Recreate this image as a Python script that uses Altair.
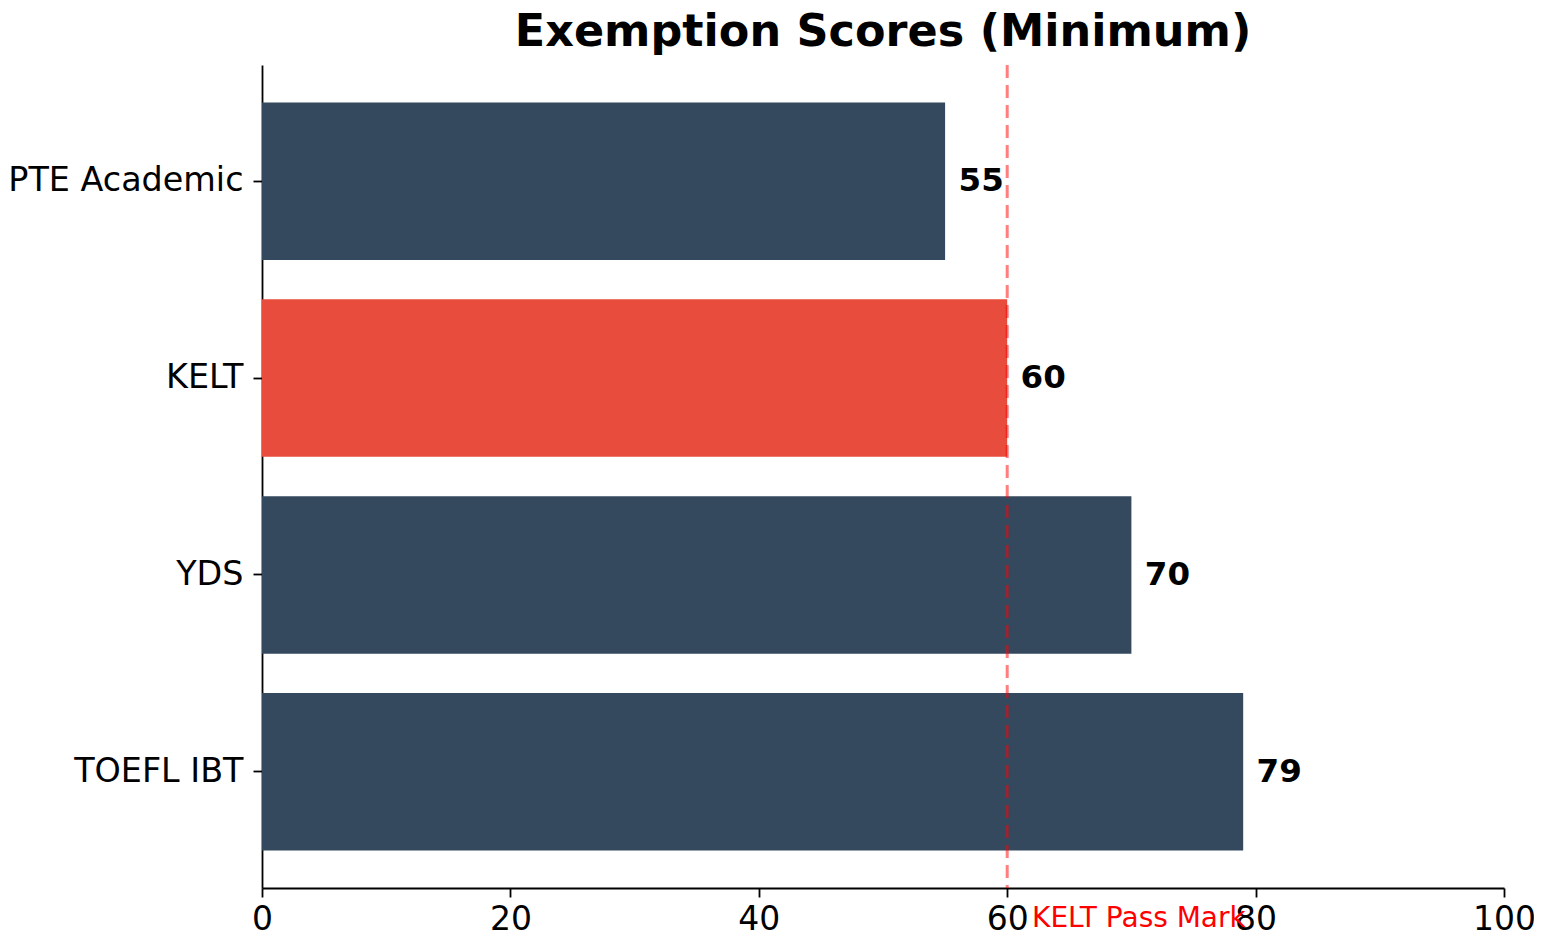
import altair as alt
import pandas as pd

tests = ["PTE Academic", "KELT", "YDS", "TOEFL IBT"]
scores = [55, 60, 70, 79]
colors = ["#34495e", "#e74c3c", "#34495e", "#34495e"]
pass_mark = 60
pass_label = "KELT Pass Mark"
x_ticks = [0, 20, 40, 60, 80, 100]

df = pd.DataFrame({"test": tests, "score": scores, "color": colors})
df["label_x"] = df["score"] + 1

W, H = 1242, 823
FONT = "DejaVu Sans"

y_enc = alt.Y(
    "test:N",
    sort=tests,
    scale=alt.Scale(paddingInner=0.2, paddingOuter=0.19),
    axis=alt.Axis(title=None, labelFontSize=33.4, labelColor="black", labelFont=FONT,
                  tickColor="black", tickSize=9, tickWidth=1.8, domainColor="black",
                  domainWidth=1.8, labelPadding=10, grid=False, labelLimit=500),
)
x_scale = alt.Scale(domain=[0, 100], nice=False)
x_axis = alt.Axis(title=None, values=x_ticks, labelFontSize=33, labelColor="black", labelFont=FONT,
                  tickColor="black", tickSize=9, tickWidth=1.8, domainColor="black",
                  domainWidth=1.8, labelPadding=6, grid=False, labelFlush=False)

bars = alt.Chart(df).mark_bar().encode(
    x=alt.X("score:Q", scale=x_scale, axis=x_axis),
    y=y_enc,
    color=alt.Color("color:N", scale=None, legend=None),
)

rule = alt.Chart(pd.DataFrame({"x": [pass_mark]})).mark_rule(
    color="#ff0000", opacity=0.5, strokeWidth=3, strokeDash=[13, 7]
).encode(x=alt.X("x:Q", scale=x_scale))

labels = alt.Chart(df).mark_text(
    align="left", baseline="middle", fontSize=32.5, fontWeight="bold", font=FONT, color="black", dx=1
).encode(
    x=alt.X("label_x:Q", scale=x_scale),
    y=alt.Y("test:N", sort=tests),
    text=alt.Text("score:Q"),
)

pass_text = alt.Chart(pd.DataFrame({"x": [pass_mark + 2], "t": [pass_label]})).mark_text(
    align="left", baseline="middle", fontSize=28, font=FONT, color="#ff0000"
).encode(
    x=alt.X("x:Q", scale=x_scale),
    y=alt.value(H + 31),
    text="t:N",
)

chart = alt.layer(bars, rule, labels, pass_text).properties(
    width=W,
    height=H,
    title=alt.TitleParams("Exemption Scores (Minimum)", fontSize=44.5, fontWeight="bold",
                          font=FONT, color="black", anchor="middle", offset=8),
    autosize=alt.AutoSizeParams(type="none"),
    padding={"left": 254, "top": 57, "right": 30, "bottom": 56},
).configure_view(stroke=None)

chart.save("out.html", embed_options={"renderer": "svg", "actions": False})
